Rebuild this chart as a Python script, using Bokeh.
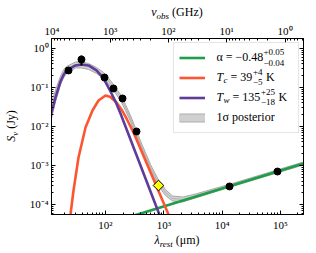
import math
from bokeh.plotting import figure
from bokeh.layouts import column, row
from bokeh.models import (Range1d, LogAxis, LogScale, LinearScale, FixedTicker,
                          CustomJSTickFormatter, Legend, LegendItem, Label, Div)
from bokeh.core.properties import value
from bokeh.embed import file_html
from bokeh.resources import INLINE

# ---------------- data ----------------
obs_lam = [23.2, 38.7, 96.2, 137.0, 196.0, 340.0, 13400.0, 89100.0]
obs_flux = [0.273, 0.522, 0.180, 0.0942, 0.0522, 0.00744, 2.9e-4, 7.0e-4]
err_lam = [38.7]
err_lo = [0.367]
err_hi = [0.662]
alma_lam = [811.0]
alma_flux = [3.07e-4]

warm_lam = [10.53, 11.85, 13.88, 16.91, 19.04, 21.43, 30.57, 38.76, 51.09, 70.09, 92.4,
            121.8, 148.4, 180.8, 220.3, 327.1, 485.5, 720.4, 950.0]
warm_flux = [0.01194, 0.02286, 0.0554, 0.1425, 0.2093, 0.2728, 0.3664, 0.3889, 0.3664,
             0.2728, 0.1701, 0.0789, 0.04375, 0.02154, 0.0100, 0.002154, 4.64e-4, 1.0e-4, 3.45e-5]

cold_lam = [24.6, 25.1, 28.26, 34.43, 45.4, 59.8, 75.9, 100.0, 121.8, 154.4, 188.1, 229.2,
            302.1, 398.4, 591.5, 811.3, 988.0, 1204.0, 1355.0]
cold_flux = [3.45e-5, 5.54e-5, 2.286e-4, 1.603e-3, 9.42e-3, 0.0257, 0.0464, 0.0623, 0.0571,
             0.0412, 0.0273, 0.01603, 0.00702, 0.00270, 6.73e-4, 2.22e-4, 1.112e-4, 5.54e-5, 3.66e-5]

sync_lam = [300.0, 3.16e5]
sync_flux = [5.13e-5, 1.25e-3]

total_lam = [10.53, 11.85, 13.88, 16.91, 19.04, 21.43, 30.57, 38.76, 51.09, 70.09, 92.4,
             121.8, 148.4, 180.8, 220.3, 268.3, 398.4, 591.5, 811.3, 1069.0, 1409.0, 2096.0,
             3496.0, 13940.0, 2.49e5, 3.16e5]
total_flux = [0.01343, 0.0257, 0.0605, 0.1512, 0.2219, 0.281, 0.3775, 0.3775, 0.3455, 0.2728,
              0.2031, 0.1267, 0.0838, 0.0554, 0.0307, 0.01603, 0.00356, 8.89e-4, 3.56e-4,
              2.03e-4, 1.425e-4, 1.343e-4, 1.652e-4, 3.07e-4, 1.125e-3, 1.25e-3]
total_err_dex = [0.231, 0.205, 0.154, 0.115, 0.103, 0.090, 0.077, 0.077, 0.077, 0.077, 0.077,
                 0.077, 0.077, 0.077, 0.077, 0.077, 0.077, 0.077, 0.077, 0.077, 0.064, 0.064,
                 0.051, 0.038, 0.038, 0.038]

lam_ticks = [1e2, 1e3, 1e4, 1e5]
flux_ticks = [1e-4, 1e-3, 1e-2, 1e-1, 1e0]
nu_ticks = [1e4, 1e3, 1e2, 1e1, 1e0]

lam_lo, lam_hi = 11.85, 2.49e5
flux_lo, flux_hi = 5.54e-5, 1.80
one_plus_z = 2.5
c_um_GHz = 2.998e5

# ---------------- styles / layout ----------------
SERIF = "Liberation Serif"
C_SYNC = "#1f9e4a"
C_COLD = "#fd5532"
C_WARM = "#5e3c99"
FW, FH = 252, 176          # plot frame size in px
TOP_H, LEFT_W, BOT_H = 20, 22, 19

p = figure(width=294, height=214, x_axis_type="log", y_axis_type="log",
           x_range=Range1d(lam_lo, lam_hi), y_range=Range1d(flux_lo, flux_hi),
           output_backend="svg", toolbar_location=None,
           min_border_left=29, min_border_right=13, min_border_top=18, min_border_bottom=20,
           margin=(0, 0, 0, 0))
p.extra_x_ranges = {"nu": Range1d(c_um_GHz / (lam_lo * one_plus_z), c_um_GHz / (lam_hi * one_plus_z)),
                    "px": Range1d(0, FW)}
p.extra_x_scales = {"nu": LogScale(), "px": LinearScale()}
p.extra_y_ranges = {"py": Range1d(0, FH)}
p.extra_y_scales = {"py": LinearScale()}
p.xgrid.visible = False
p.ygrid.visible = False
p.outline_line_color = "black"
p.outline_line_width = 1
p.background_fill_color = "white"
p.border_fill_color = "white"

band_hi = [f * 10 ** d for f, d in zip(total_flux, total_err_dex)]
band_lo = [f / 10 ** d for f, d in zip(total_flux, total_err_dex)]
p.varea(x=total_lam, y1=band_lo, y2=band_hi, fill_color="#d0d0d0")
p.line(total_lam, band_hi, line_color="#a8a8a8", line_width=1)
p.line(total_lam, band_lo, line_color="#a8a8a8", line_width=1)
p.line(total_lam, total_flux, line_color="#b4b4b4", line_width=1)

r_sync = p.line(sync_lam, sync_flux, line_color=C_SYNC, line_width=2.6)
r_cold = p.line(cold_lam, cold_flux, line_color=C_COLD, line_width=2.6)
r_warm = p.line(warm_lam, warm_flux, line_color=C_WARM, line_width=2.6)

p.segment(x0=err_lam, y0=err_lo, x1=err_lam, y1=err_hi, line_color="black", line_width=2)
p.scatter(obs_lam, obs_flux, size=7, marker="circle", fill_color="black", line_color="black")
p.scatter(alma_lam, alma_flux, size=7.5, marker="square", angle=math.pi / 4,
          fill_color="#ffff00", line_color="black", line_width=1)

# legend swatch proxies for the posterior band: a single off-range vertex, so nothing is drawn
proxy_x, proxy_y = [1.0], [1.0]
r_band_edge = p.line(x=proxy_x, y=proxy_y, line_color="#acacac", line_width=9)
r_band_fill = p.line(x=proxy_x, y=proxy_y, line_color="#d0d0d0", line_width=7)

sup_fmt = CustomJSTickFormatter(code="""
const s = {"0":"\u2070","1":"\u00b9","2":"\u00b2","3":"\u00b3","4":"\u2074","5":"\u2075",
           "6":"\u2076","7":"\u2077","8":"\u2078","9":"\u2079","-":"\u207b"};
const e = Math.round(Math.log10(tick));
return "10" + String(e).split("").map(c => s[c]).join("");
""")


def minors(k0, k1):
    return [m * 10.0 ** k for k in range(k0, k1) for m in range(2, 10)]


def style_axis(ax):
    ax.major_tick_in = 4
    ax.major_tick_out = 0
    ax.minor_tick_in = 2
    ax.minor_tick_out = 0
    ax.axis_line_color = "black"
    ax.major_tick_line_color = "black"
    ax.minor_tick_line_color = "black"
    ax.major_label_text_font = SERIF
    ax.major_label_text_font_size = "11px"
    ax.major_label_text_color = "black"


xt = FixedTicker(ticks=lam_ticks, minor_ticks=minors(1, 6))
yt = FixedTicker(ticks=flux_ticks, minor_ticks=minors(-5, 1))
p.xaxis.ticker = xt
p.yaxis.ticker = yt
p.xaxis.formatter = sup_fmt
p.yaxis.formatter = sup_fmt
for ax in p.xaxis + p.yaxis:
    style_axis(ax)
p.xaxis.major_label_standoff = 4
p.yaxis.major_label_standoff = 3

top = LogAxis(x_range_name="nu", ticker=FixedTicker(ticks=nu_ticks, minor_ticks=minors(-1, 5)),
              formatter=sup_fmt)
style_axis(top)
top.major_label_standoff = 2
p.add_layout(top, "above")

right = LogAxis(ticker=yt, formatter=CustomJSTickFormatter(code="return ''"))
style_axis(right)
right.major_label_text_font_size = "0px"
right.major_label_standoff = 0
p.add_layout(right, "right")

legend = Legend(items=[LegendItem(label=value(" "), renderers=[r_sync]),
                       LegendItem(label=value(" "), renderers=[r_cold]),
                       LegendItem(label=value(" "), renderers=[r_warm]),
                       LegendItem(label=value(" "), renderers=[r_band_edge, r_band_fill])],
                location="top_right", margin=4, padding=5, spacing=1,
                glyph_width=26, glyph_height=19, label_height=19, label_width=78,
                label_standoff=10, border_line_color="#cccccc", border_line_width=1,
                background_fill_alpha=0.0, label_text_font_size="12px")
p.add_layout(legend)


def put(text, x, y, size="12px", style="normal"):
    p.add_layout(Label(x=x, y=y, x_range_name="px", y_range_name="py", text=text,
                       text_font=SERIF, text_font_size=size, text_font_style=style,
                       text_baseline="middle", text_align="left",
                       text_color="black", level="overlay"))


# legend texts (positions in frame pixels, origin bottom-left)
put("\u03b1 = \u22120.48", 165, 157.5)
put("+0.05", 212, 163, size="9px")
put("\u22120.04", 212, 152, size="9px")
put("T", 165, 137.5, style="italic")
put("c", 172, 134.5, size="9px", style="italic")
put("= 39", 179, 137.5)
put("+4", 201.5, 143, size="9px")
put("\u22125", 201.5, 132.5, size="9px")
put("K", 214.5, 137.5)
put("T", 165, 117.5, style="italic")
put("w", 172, 114.5, size="9px", style="italic")
put("= 135", 181, 117.5)
put("+25", 209.5, 123, size="9px")
put("\u221218", 209.5, 112.5, size="9px")
put("K", 227, 117.5)
put("1\u03c3 posterior", 165, 97.5)

# axis titles as HTML (allow real subscripts outside the frame)
FONT_CSS = "font-family:'Liberation Serif',serif;font-size:12px;color:#000;line-height:1;white-space:nowrap;"
SUB_CSS = "font-size:9px;font-style:italic;position:relative;top:3px;"


def title_div(w, h, cx, cy, inner, rotate=False):
    rot = " rotate(-90deg)" if rotate else ""
    html = (f'<div style="position:relative;width:{w}px;height:{h}px;">'
            f'<div style="position:absolute;left:{cx}px;top:{cy}px;'
            f'transform:translate(-50%,-50%){rot};{FONT_CSS}">{inner}</div></div>')
    return Div(text=html, width=w, height=h, margin=(0, 0, 0, 0))


top_div = title_div(316, TOP_H, 177, 12,
                    f'<i>\u03bd</i><span style="{SUB_CSS}">obs</span> (GHz)')
left_div = title_div(LEFT_W, 214, 11, 106,
                     f'<i>S</i><span style="{SUB_CSS}">\u03bd</span> (Jy)', rotate=True)
bot_div = title_div(316, BOT_H, 177, 6,
                    f'<i>\u03bb</i><span style="{SUB_CSS}">rest</span> (\u03bcm)')

layout = column(top_div, row(left_div, p, spacing=0), bot_div, spacing=0)

with open("out.html", "w", encoding="utf-8") as fh:
    fh.write(file_html(layout, INLINE))
